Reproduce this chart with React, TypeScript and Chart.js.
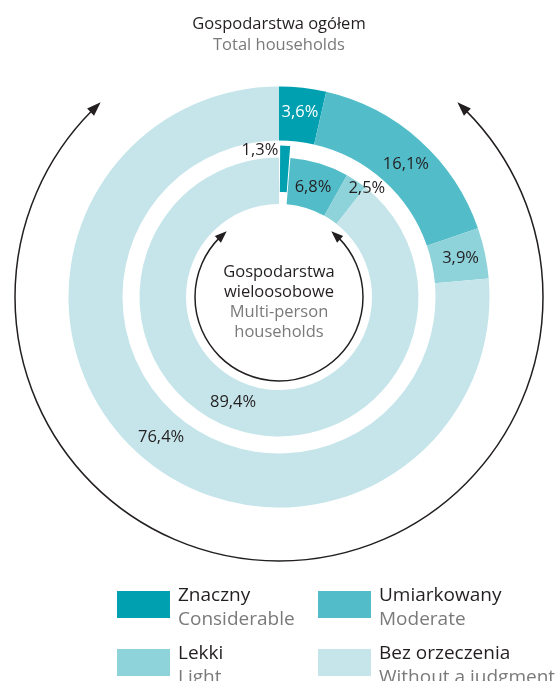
import React, { useEffect, useRef } from "react";
import { Chart, registerables } from "chart.js";

Chart.register(...registerables);

// ---- data ----
const categoriesPl = ["Znaczny", "Umiarkowany", "Lekki", "Bez orzeczenia"];
const categoriesEn = ["Considerable", "Moderate", "Light", "Without a judgment"];
const totalHouseholds = [3.6, 16.1, 3.9, 76.4];
const multiPersonHouseholds = [1.3, 6.8, 2.5, 89.4];
const sliceColors = ["#00A0B1", "#52BDC9", "#8ED2DA", "#C5E5EA"];
const titleLines = ["Gospodarstwa ogółem", "Total households"];
const centerLines = ["Gospodarstwa", "wieloosobowe", "Multi-person", "households"];

// label placement tweaks (angle delta in degrees, radial fraction of ring)
const outerLabelPlace = [
  { dA: 0, rf: 0.55, color: "#FFFFFF" },
  { dA: 1.8, rf: 0.5 },
  { dA: 0, rf: 0.54 },
  { dA: -2.5, rf: 0.5 },
];
const innerLabelPlace = [
  { dA: -9.7, rf: 1.19 },
  { dA: 0.4, rf: 0.46 },
  { dA: 5.2, rf: 1.01 },
  { dA: 4.4, rf: 0.48 },
];

const DARK = "#231F20";
const GRAY = "#7A7A7A";
const FONT = '"Open Sans", "Noto Sans", sans-serif';

const fmt = (v: number) => v.toFixed(1).replace(".", ",") + "%";

function drawArrowArc(
  ctx: CanvasRenderingContext2D,
  cx: number,
  cy: number,
  r: number,
  tipDeg: number,
  headLen: number,
  headW: number
) {
  const toRad = (d: number) => (d * Math.PI) / 180;
  const rightTip = toRad(tipDeg - 90);
  const leftTip = toRad(-tipDeg - 90) + 2 * Math.PI;
  const d = headLen / r;
  ctx.save();
  ctx.strokeStyle = DARK;
  ctx.fillStyle = DARK;
  ctx.lineWidth = 1.5;
  ctx.beginPath();
  ctx.arc(cx, cy, r, rightTip + d * 0.8, leftTip - d * 0.8, false);
  ctx.stroke();
  const head = (tipA: number, baseA: number) => {
    const tx = cx + r * Math.cos(tipA);
    const ty = cy + r * Math.sin(tipA);
    const bx = cx + r * Math.cos(baseA);
    const by = cy + r * Math.sin(baseA);
    let dx = tx - bx;
    let dy = ty - by;
    const len = Math.hypot(dx, dy);
    dx /= len;
    dy /= len;
    const px = -dy;
    const py = dx;
    const baseX = tx - dx * headLen;
    const baseY = ty - dy * headLen;
    ctx.beginPath();
    ctx.moveTo(tx, ty);
    ctx.lineTo(baseX + (px * headW) / 2, baseY + (py * headW) / 2);
    ctx.lineTo(baseX - (px * headW) / 2, baseY - (py * headW) / 2);
    ctx.closePath();
    ctx.fill();
  };
  head(rightTip, rightTip + d);
  head(leftTip, leftTip - d);
  ctx.restore();
}

const decorPlugin = {
  id: "decor",
  afterDatasetsDraw(chart: any) {
    const ctx: CanvasRenderingContext2D = chart.ctx;
    const area = chart.chartArea;
    const cx = (area.left + area.right) / 2;
    const cy = (area.top + area.bottom) / 2;

    const drawLabels = (dsIndex: number, values: number[], place: any[]) => {
      const meta = chart.getDatasetMeta(dsIndex);
      meta.data.forEach((arc: any, i: number) => {
        const p = arc.getProps(["x", "y", "startAngle", "endAngle", "innerRadius", "outerRadius"], true);
        const pl = place[i] || { dA: 0, rf: 0.5 };
        const a = (p.startAngle + p.endAngle) / 2 + (pl.dA * Math.PI) / 180;
        const r = p.innerRadius + pl.rf * (p.outerRadius - p.innerRadius);
        ctx.save();
        ctx.font = `16.5px ${FONT}`;
        ctx.fillStyle = pl.color || DARK;
        ctx.textAlign = "center";
        ctx.textBaseline = "middle";
        ctx.fillText(fmt(values[i]), p.x + r * Math.cos(a), p.y + r * Math.sin(a));
        ctx.restore();
      });
    };
    drawLabels(0, totalHouseholds, outerLabelPlace);
    drawLabels(2, multiPersonHouseholds, innerLabelPlace);

    const outerMeta = chart.getDatasetMeta(0).data[0];
    const innerMeta = chart.getDatasetMeta(2).data[0];
    const outerR = outerMeta.outerRadius;
    const holeR = innerMeta.innerRadius;

    drawArrowArc(ctx, cx, cy, outerR + 53.5, 42.5, 14, 10);
    drawArrowArc(ctx, cx, cy, holeR - 9, 38.5, 12, 9);

    ctx.save();
    ctx.textAlign = "center";
    ctx.textBaseline = "alphabetic";
    ctx.font = `16.5px ${FONT}`;
    ctx.fillStyle = DARK;
    ctx.fillText(titleLines[0], cx, 29);
    ctx.fillStyle = GRAY;
    ctx.fillText(titleLines[1], cx, 50);

    centerLines.forEach((t, i) => {
      ctx.fillStyle = i < 2 ? DARK : GRAY;
      ctx.fillText(t, cx, cy - 20 + i * 20);
    });
    ctx.restore();

    const colX = [117, 318];
    const rowY = [591, 649];
    ctx.save();
    ctx.font = `19px ${FONT}`;
    ctx.textAlign = "left";
    ctx.textBaseline = "alphabetic";
    categoriesPl.forEach((name, i) => {
      const x = colX[i % 2];
      const y = rowY[Math.floor(i / 2)];
      ctx.fillStyle = sliceColors[i];
      ctx.fillRect(x, y, 53, 27);
      ctx.fillStyle = DARK;
      ctx.fillText(name, x + 61, y + 10);
      ctx.fillStyle = GRAY;
      ctx.fillText(categoriesEn[i], x + 61, y + 34);
    });
    ctx.restore();
  },
};

export default function App() {
  const ref = useRef<HTMLCanvasElement>(null);
  useEffect(() => {
    if (!ref.current) return;
    const common = { borderWidth: 0, hoverBorderWidth: 0, hoverOffset: 0 };
    const chart = new Chart(ref.current, {
      type: "doughnut",
      data: {
        labels: categoriesPl,
        datasets: [
          { data: totalHouseholds, backgroundColor: sliceColors, weight: 0.45957, offset: 0, ...common },
          { data: [1], backgroundColor: ["rgba(0,0,0,0)"], weight: 0.09757, offset: 0, ...common },
          {
            data: multiPersonHouseholds,
            backgroundColor: sliceColors,
            weight: 0.44286,
            offset: [25, 0, 0, 0],
            ...common,
          },
        ] as any,
      },
      options: {
        responsive: false,
        animation: false,
        events: [],
        cutout: 93,
        layout: { padding: { left: 68.5, right: 70.5, top: 86.5, bottom: 173.5 } },
        plugins: { legend: { display: false }, tooltip: { enabled: false } },
      } as any,
      plugins: [decorPlugin],
    });
    return () => chart.destroy();
  }, []);
  return (
    <div style={{ position: "absolute", left: 0, top: 0, width: 560, height: 681, background: "#fff" }}>
      <canvas ref={ref} width={560} height={681} style={{ width: 560, height: 681, display: "block" }} />
    </div>
  );
}
